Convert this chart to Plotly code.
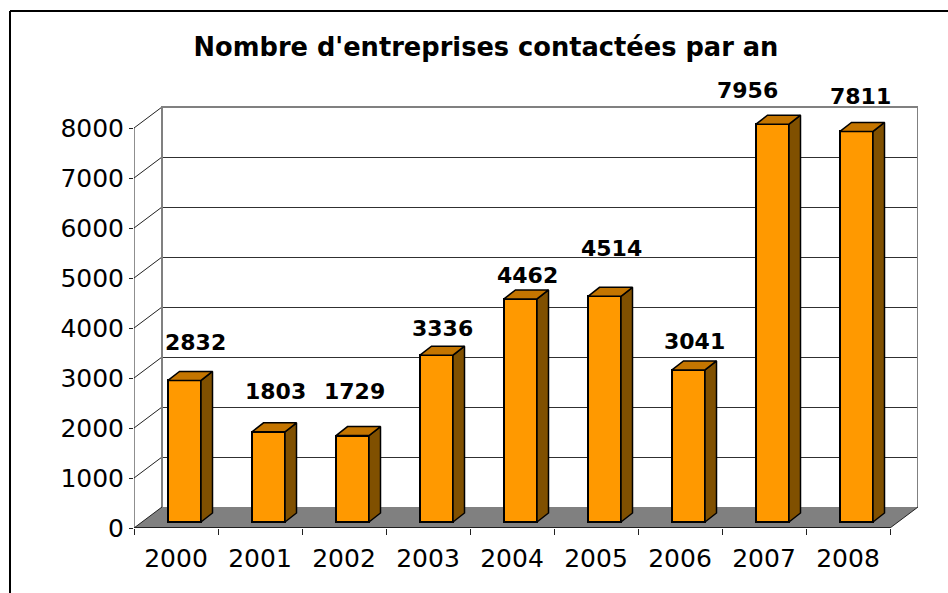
import plotly.graph_objects as go

# ---- data ----
years = [2000, 2001, 2002, 2003, 2004, 2005, 2006, 2007, 2008]
values = [2832, 1803, 1729, 3336, 4462, 4514, 3041, 7956, 7811]
y_ticks = [0, 1000, 2000, 3000, 4000, 5000, 6000, 7000, 8000]
title_text = "<b>Nombre d'entreprises contactées par an</b>"

# ---- label nudges (pixels relative to the top of each bar) ----
label_dx = [11, 7, 2, 6, 7, 7, 6, -25, 4]
label_dy = [38, 40, 44, 27, 23, 48, 28, 34, 35]

# ---- geometry of the fake 3D look ----
W, H = 948, 593
L, R, T, B = 134, 918, 78, 528         # plot area in pixels
PX_X = 84.0                            # pixels per category
PX_Y = 0.05                            # pixels per value unit
x0 = years[0] - 0.5
x1 = years[-1] + 0.5
wall_dx = 28 / PX_X
wall_dy = 21 / PX_Y
grid_dy = 20.5 / PX_Y
bar_dx = 11.5 / PX_X
bar_dy = 9 / PX_Y
bar_base = 6 / PX_Y
bar_w = 33 / PX_X
bar_off = 8.5 / PX_X

ORANGE, TOP, SIDE = "#FF9900", "#C47500", "#805000"
GRAY = "#808080"
DARK = "#202020"

fig = go.Figure()


def poly(xs, ys):
    return "M " + " L ".join(f"{a},{b}" for a, b in zip(xs, ys)) + " Z"


def px_x(p):
    return (p - L) / (R - L)


def px_y(p):
    return (B - p) / (B - T)


shapes = []
# floor
shapes.append(dict(type="path", xref="x", yref="y", layer="below",
                   path=poly([x0, x1, x1 + wall_dx, x0 + wall_dx],
                             [0, 0, wall_dy, wall_dy]),
                   fillcolor=GRAY, line=dict(width=0)))
ymax = y_ticks[-1]
# gridlines and diagonals
for v in y_ticks:
    if 0 < v < ymax:
        shapes.append(dict(type="line", xref="x", yref="y", layer="below",
                           x0=x0 + wall_dx, x1=x1 + wall_dx,
                           y0=v + grid_dy, y1=v + grid_dy,
                           line=dict(color="#303030", width=1)))
    if v > 0:
        shapes.append(dict(type="line", xref="x", yref="y", layer="below",
                           x0=x0, x1=x0 + wall_dx, y0=v, y1=v + wall_dy,
                           line=dict(color=DARK, width=1)))
# back wall frame
shapes.append(dict(type="path", xref="x", yref="y", layer="below",
                   path="M " + " L ".join(f"{a},{b}" for a, b in [
                       (x0 + wall_dx, wall_dy), (x0 + wall_dx, ymax + wall_dy),
                       (x1 + wall_dx, ymax + wall_dy), (x1 + wall_dx, wall_dy)]),
                   line=dict(color=GRAY, width=2)))
# right floor edge
shapes.append(dict(type="line", xref="x", yref="y", layer="below",
                   x0=x1, x1=x1 + wall_dx, y0=0, y1=wall_dy,
                   line=dict(color=DARK, width=1)))
# axes
shapes.append(dict(type="line", xref="x", yref="y", layer="above",
                   x0=x0, x1=x0, y0=0, y1=ymax, line=dict(color=DARK, width=1)))
shapes.append(dict(type="line", xref="x", yref="y", layer="above",
                   x0=x0, x1=x1, y0=0, y1=0, line=dict(color=DARK, width=2)))
shapes.append(dict(type="line", xref="x", yref="y", layer="above",
                   x0=x0, x1=x0 + wall_dx, y0=0, y1=wall_dy,
                   line=dict(color=DARK, width=1)))
# outer frame (only its top and left sides fall inside the picture)
shapes.append(dict(type="line", xref="paper", yref="paper",
                   x0=px_x(10), x1=px_x(W), y0=px_y(11), y1=px_y(11),
                   line=dict(color="black", width=2)))
shapes.append(dict(type="line", xref="paper", yref="paper",
                   x0=px_x(10), x1=px_x(10), y0=px_y(H), y1=px_y(11),
                   line=dict(color="black", width=2)))

outline = dict(color="black", width=1.5)
# 3D faces of each bar
for yr, v in zip(years, values):
    xl = yr + bar_off - bar_w / 2
    xr = yr + bar_off + bar_w / 2
    top = bar_base + v
    fig.add_trace(go.Scatter(
        x=[xr, xr + bar_dx, xr + bar_dx, xr, xr],
        y=[bar_base, bar_base + bar_dy, top + bar_dy, top, bar_base],
        mode="lines", fill="toself", fillcolor=SIDE, line=outline,
        hoverinfo="skip", showlegend=False))
    fig.add_trace(go.Scatter(
        x=[xl, xl + bar_dx, xr + bar_dx, xr, xl],
        y=[top, top + bar_dy, top + bar_dy, top, top],
        mode="lines", fill="toself", fillcolor=TOP, line=outline,
        hoverinfo="skip", showlegend=False))

# front faces
fig.add_trace(go.Bar(
    x=[y + bar_off for y in years], y=values, base=bar_base, width=bar_w,
    marker=dict(color=ORANGE, line=dict(color="black", width=2)), showlegend=False,
    hovertemplate="%{customdata}: %{y}<extra></extra>", customdata=years))

annotations = [
    dict(x=yr + bar_off, y=bar_base + v, xref="x", yref="y",
         text=f"<b>{v}</b>", showarrow=False, xanchor="center", yanchor="middle",
         xshift=dx, yshift=dy, font=dict(size=22, color="black"))
    for yr, v, dx, dy in zip(years, values, label_dx, label_dy)
]

FONT = "DejaVu Sans, Verdana, sans-serif"
fig.update_layout(
    width=W, height=H, autosize=False,
    margin=dict(l=L, r=W - R, t=T, b=H - B, pad=0),
    paper_bgcolor="white", plot_bgcolor="white",
    font=dict(family=FONT, color="black"),
    title=dict(text=title_text, x=486 / W, xanchor="center", xref="container",
               y=1 - 47 / H, yanchor="middle", yref="container",
               font=dict(size=25.7, family=FONT, color="black")),
    bargap=0,
    shapes=shapes,
    annotations=annotations,
    xaxis=dict(range=[x0, x1 + wall_dx], tickvals=years, ticktext=[str(y) for y in years],
               showgrid=False, zeroline=False, showline=False, ticks="",
               tickfont=dict(size=25), ticklabelstandoff=13,
               minor=dict(tick0=x0, dtick=1, ticks="outside", ticklen=6, tickcolor=DARK,
                          tickwidth=1, showgrid=False)),
    yaxis=dict(range=[0, (B - T) / PX_Y], tickvals=y_ticks,
               showgrid=False, zeroline=False, showline=False, ticks="outside",
               ticklen=4, tickcolor=DARK, tickwidth=1,
               tickfont=dict(size=25), tickformat="d"),
)

fig.write_html("out.html", config=dict(displayModeBar=False),
               post_script="document.body.style.margin='0';")
